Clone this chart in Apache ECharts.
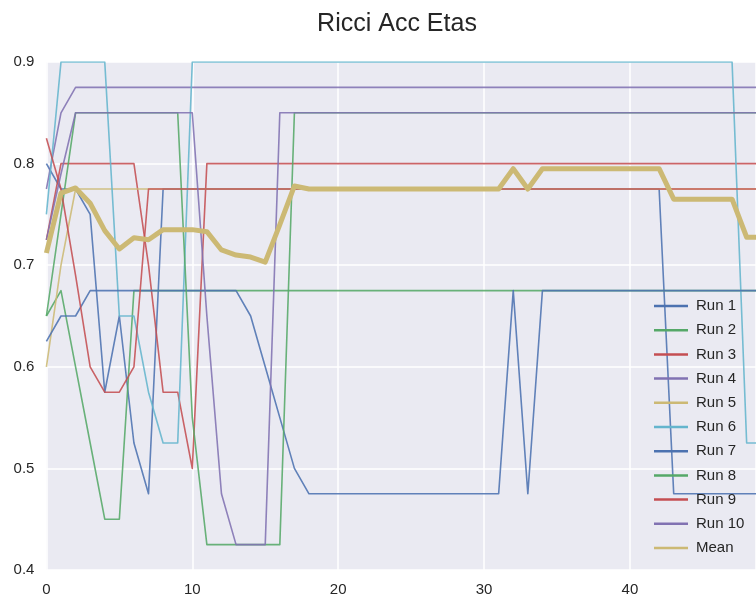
<!DOCTYPE html>
<html><head><meta charset="utf-8">
<script src="https://cdn.jsdelivr.net/npm/echarts@6/dist/echarts.min.js"></script>
<style>html,body{margin:0;padding:0;background:#fff}#c{width:756px;height:601px}</style>
</head><body><div id="c"></div>
<script>
const epochs = [0,1,2,3,4,5,6,7,8,9,10,11,12,13,14,15,16,17,18,19,20,21,22,23,24,25,26,27,28,29,30,31,32,33,34,35,36,37,38,39,40,41,42,43,44,45,46,47,48,49];
const xTicks = [0,10,20,30,40];
const yTicks = [0.4,0.5,0.6,0.7,0.8,0.9];
const seriesNames = ['Run 1','Run 2','Run 3','Run 4','Run 5','Run 6','Run 7','Run 8','Run 9','Run 10','Mean'];

const run1 = [0.8,0.775,0.775,0.75,0.575,0.65,0.525,0.475,0.775,0.775,
  0.775,0.775,0.775,0.775,0.775,0.775,0.775,0.775,0.775,0.775,
  0.775,0.775,0.775,0.775,0.775,0.775,0.775,0.775,0.775,0.775,
  0.775,0.775,0.775,0.775,0.775,0.775,0.775,0.775,0.775,0.775,
  0.775,0.775,0.775,0.475,0.475,0.475,0.475,0.475,0.475,0.475];
const run2 = [0.65,0.675,0.6,0.525,0.45,0.45,0.675,0.675,0.675,0.675,
  0.675,0.675,0.675,0.675,0.675,0.675,0.675,0.675,0.675,0.675,
  0.675,0.675,0.675,0.675,0.675,0.675,0.675,0.675,0.675,0.675,
  0.675,0.675,0.675,0.675,0.675,0.675,0.675,0.675,0.675,0.675,
  0.675,0.675,0.675,0.675,0.675,0.675,0.675,0.675,0.675,0.675];
const run3 = [0.725,0.8,0.8,0.8,0.8,0.8,0.8,0.7,0.575,0.575,
  0.5,0.8,0.8,0.8,0.8,0.8,0.8,0.8,0.8,0.8,
  0.8,0.8,0.8,0.8,0.8,0.8,0.8,0.8,0.8,0.8,
  0.8,0.8,0.8,0.8,0.8,0.8,0.8,0.8,0.8,0.8,
  0.8,0.8,0.8,0.8,0.8,0.8,0.8,0.8,0.8,0.8];
const run4 = [0.775,0.85,0.875,0.875,0.875,0.875,0.875,0.875,0.875,0.875,
  0.875,0.875,0.875,0.875,0.875,0.875,0.875,0.875,0.875,0.875,
  0.875,0.875,0.875,0.875,0.875,0.875,0.875,0.875,0.875,0.875,
  0.875,0.875,0.875,0.875,0.875,0.875,0.875,0.875,0.875,0.875,
  0.875,0.875,0.875,0.875,0.875,0.875,0.875,0.875,0.875,0.875];
const run5 = [0.6,0.7,0.775,0.775,0.775,0.775,0.775,0.775,0.775,0.775,
  0.775,0.775,0.775,0.775,0.775,0.775,0.775,0.775,0.775,0.775,
  0.775,0.775,0.775,0.775,0.775,0.775,0.775,0.775,0.775,0.775,
  0.775,0.775,0.775,0.775,0.775,0.775,0.775,0.775,0.775,0.775,
  0.775,0.775,0.775,0.775,0.775,0.775,0.775,0.775,0.775,0.775];
const run6 = [0.75,0.9,0.9,0.9,0.9,0.65,0.65,0.575,0.525,0.525,
  0.9,0.9,0.9,0.9,0.9,0.9,0.9,0.9,0.9,0.9,
  0.9,0.9,0.9,0.9,0.9,0.9,0.9,0.9,0.9,0.9,
  0.9,0.9,0.9,0.9,0.9,0.9,0.9,0.9,0.9,0.9,
  0.9,0.9,0.9,0.9,0.9,0.9,0.9,0.9,0.525,0.525];
const run7 = [0.625,0.65,0.65,0.675,0.675,0.675,0.675,0.675,0.675,0.675,
  0.675,0.675,0.675,0.675,0.65,0.6,0.55,0.5,0.475,0.475,
  0.475,0.475,0.475,0.475,0.475,0.475,0.475,0.475,0.475,0.475,
  0.475,0.475,0.675,0.475,0.675,0.675,0.675,0.675,0.675,0.675,
  0.675,0.675,0.675,0.675,0.675,0.675,0.675,0.675,0.675,0.675];
const run8 = [0.65,0.75,0.85,0.85,0.85,0.85,0.85,0.85,0.85,0.85,
  0.55,0.425,0.425,0.425,0.425,0.425,0.425,0.85,0.85,0.85,
  0.85,0.85,0.85,0.85,0.85,0.85,0.85,0.85,0.85,0.85,
  0.85,0.85,0.85,0.85,0.85,0.85,0.85,0.85,0.85,0.85,
  0.85,0.85,0.85,0.85,0.85,0.85,0.85,0.85,0.85,0.85];
const run9 = [0.825,0.775,0.69,0.6,0.575,0.575,0.6,0.775,0.775,0.775,
  0.775,0.775,0.775,0.775,0.775,0.775,0.775,0.775,0.775,0.775,
  0.775,0.775,0.775,0.775,0.775,0.775,0.775,0.775,0.775,0.775,
  0.775,0.775,0.775,0.775,0.775,0.775,0.775,0.775,0.775,0.775,
  0.775,0.775,0.775,0.775,0.775,0.775,0.775,0.775,0.775,0.775];
const run10 = [0.725,0.79,0.85,0.85,0.85,0.85,0.85,0.85,0.85,0.85,
  0.85,0.65,0.475,0.425,0.425,0.425,0.85,0.85,0.85,0.85,
  0.85,0.85,0.85,0.85,0.85,0.85,0.85,0.85,0.85,0.85,
  0.85,0.85,0.85,0.85,0.85,0.85,0.85,0.85,0.85,0.85,
  0.85,0.85,0.85,0.85,0.85,0.85,0.85,0.85,0.85,0.85];
const mean = [0.712,0.771,0.776,0.761,0.734,0.716,0.727,0.725,0.735,0.735,
  0.735,0.733,0.715,0.71,0.708,0.703,0.74,0.778,0.775,0.775,
  0.775,0.775,0.775,0.775,0.775,0.775,0.775,0.775,0.775,0.775,
  0.775,0.775,0.795,0.775,0.795,0.795,0.795,0.795,0.795,0.795,
  0.795,0.795,0.795,0.765,0.765,0.765,0.765,0.765,0.7275,0.7275];

const allSeries = [run1,run2,run3,run4,run5,run6,run7,run8,run9,run10,mean];
const colors = ['#4C72B0','#55A868','#C44E52','#8172B2','#CCB974','#64B5CD','#4C72B0','#55A868','#C44E52','#8172B2','#CCB974'];

const FONT = '"Liberation Sans", Arial, sans-serif';
const chart = echarts.init(document.getElementById('c'), null, {renderer: 'canvas'});

const series = allSeries.map((arr, i) => {
  const isMean = seriesNames[i] === 'Mean';
  return {
    name: seriesNames[i],
    type: 'line',
    data: epochs.map((x, j) => [x, arr[j]]),
    symbol: 'none',
    showSymbol: false,
    clip: true,
    color: colors[i],
    lineStyle: {color: colors[i], width: isMean ? 5 : 1.6, opacity: isMean ? 1 : 0.88, join: 'round'},
    emphasis: {disabled: true}
  };
});

chart.setOption({
  animation: false,
  backgroundColor: '#ffffff',
  title: {
    text: 'Ricci Acc Etas',
    left: 392, textAlign: 'center', top: 7,
    textStyle: {fontFamily: FONT, fontSize: 25, fontWeight: 'normal', color: '#262626'}
  },
  legend: {
    orient: 'vertical',
    left: 649, top: 293,
    icon: 'rect', itemWidth: 34, itemHeight: 2.5,
    itemGap: 8.2,
    data: seriesNames,
    textStyle: {fontFamily: FONT, fontSize: 15, color: '#262626', lineHeight: 16, padding: [0,0,0,3]}
  },
  grid: {left: 46.4, right: 0, top: 62, bottom: 31, show: true, backgroundColor: '#EAEAF2', borderWidth: 0, outerBoundsMode: 'none', containLabel: false},
  xAxis: {
    type: 'value', min: 0, max: 48.64, interval: 10,
    axisLine: {show: false}, axisTick: {show: false},
    splitLine: {show: true, lineStyle: {color: '#ffffff', width: 1.5}},
    axisLabel: {margin: 12, fontFamily: FONT, fontSize: 15, color: '#262626',
      formatter: v => xTicks.indexOf(Math.round(v * 1000) / 1000) >= 0 ? String(Math.round(v)) : ''}
  },
  yAxis: {
    type: 'value', min: 0.4, max: 0.9, interval: 0.1,
    axisLine: {show: false}, axisTick: {show: false},
    splitLine: {show: true, lineStyle: {color: '#ffffff', width: 1.5}},
    axisLabel: {margin: 12, fontFamily: FONT, fontSize: 15, color: '#262626',
      formatter: v => { const r = Math.round(v * 10) / 10; return yTicks.indexOf(r) >= 0 ? r.toFixed(1) : ''; }}
  },
  series: series
});
</script>
</body></html>
